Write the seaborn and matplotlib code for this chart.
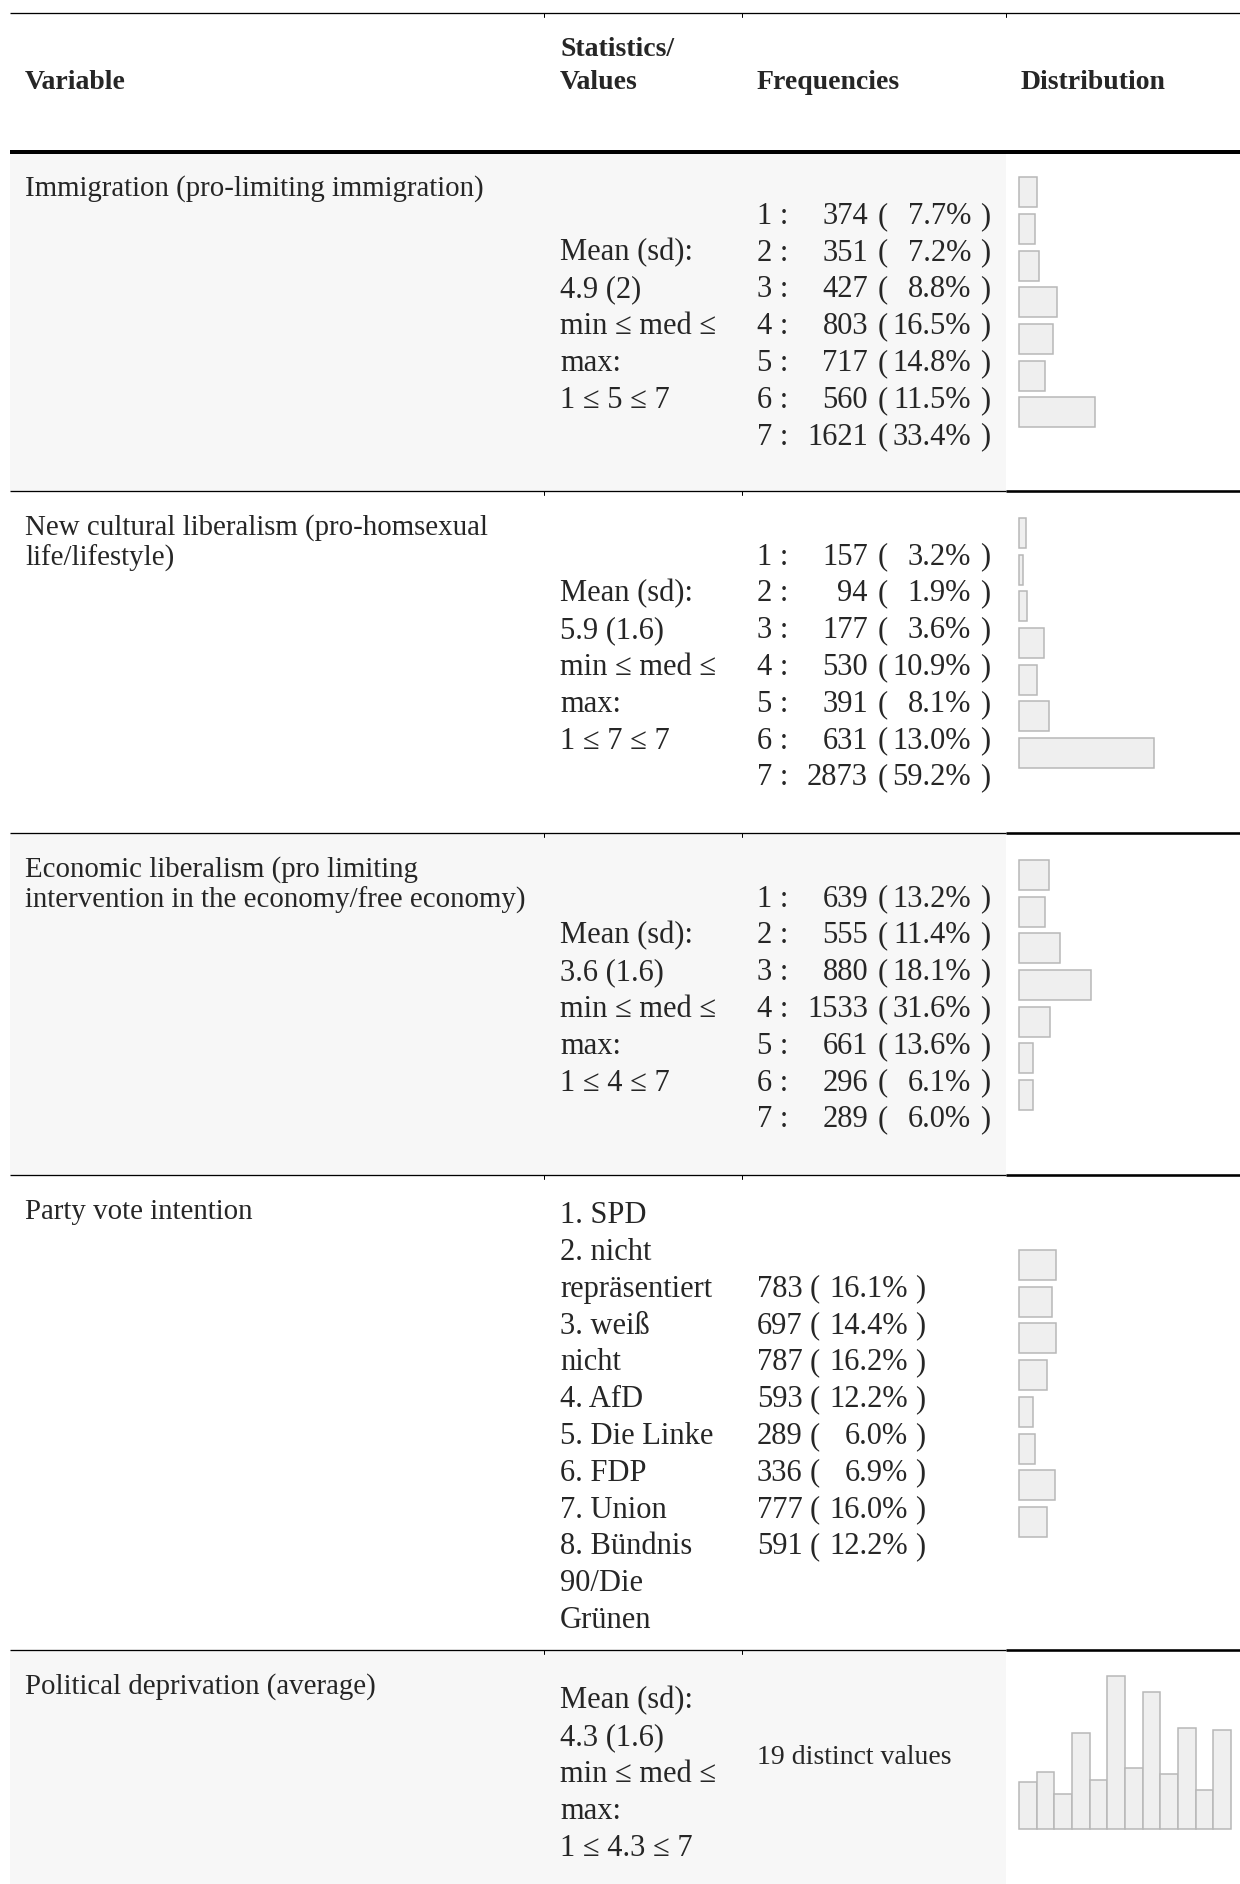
import matplotlib
matplotlib.use("Agg")
import matplotlib.pyplot as plt
from matplotlib.patches import Rectangle
import seaborn as sns
import pandas as pd

sns.set_theme(style="white")
plt.rcParams['font.family'] = ['Liberation Serif', 'DejaVu Serif']

# ---------------- data ----------------
header_variable = "Variable"
header_stats = ["Statistics/", "Values"]
header_freq = "Frequencies"
header_dist = "Distribution"

var_names = [
    ["Immigration (pro-limiting immigration)"],
    ["New cultural liberalism (pro-homsexual", "life/lifestyle)"],
    ["Economic liberalism (pro limiting", "intervention in the economy/free economy)"],
    ["Party vote intention"],
    ["Political deprivation (average)"],
]

stats_immig = ["Mean (sd):", "4.9 (2)", "min \u2264 med \u2264", "max:", "1 \u2264 5 \u2264 7"]
stats_cult = ["Mean (sd):", "5.9 (1.6)", "min \u2264 med \u2264", "max:", "1 \u2264 7 \u2264 7"]
stats_econ = ["Mean (sd):", "3.6 (1.6)", "min \u2264 med \u2264", "max:", "1 \u2264 4 \u2264 7"]
stats_party = ["1. SPD", "2. nicht", "repr\u00e4sentiert", "3. wei\u00df", "nicht", "4. AfD",
               "5. Die Linke", "6. FDP", "7. Union", "8. B\u00fcndnis", "90/Die", "Gr\u00fcnen"]
stats_depr = ["Mean (sd):", "4.3 (1.6)", "min \u2264 med \u2264", "max:", "1 \u2264 4.3 \u2264 7"]

levels_7 = ["1", "2", "3", "4", "5", "6", "7"]
immig_counts = [374, 351, 427, 803, 717, 560, 1621]
immig_pct = [7.7, 7.2, 8.8, 16.5, 14.8, 11.5, 33.4]
cult_counts = [157, 94, 177, 530, 391, 631, 2873]
cult_pct = [3.2, 1.9, 3.6, 10.9, 8.1, 13.0, 59.2]
econ_counts = [639, 555, 880, 1533, 661, 296, 289]
econ_pct = [13.2, 11.4, 18.1, 31.6, 13.6, 6.1, 6.0]

party_levels = ["SPD", "nicht repr\u00e4sentiert", "wei\u00df nicht", "AfD", "Die Linke",
                "FDP", "Union", "B\u00fcndnis 90/Die Gr\u00fcnen"]
party_counts = [783, 697, 787, 593, 289, 336, 777, 591]
party_pct = [16.1, 14.4, 16.2, 12.2, 6.0, 6.9, 16.0, 12.2]

depr_text = "19 distinct values"
depr_bins = list(range(12))
depr_counts = [244, 296, 181, 505, 254, 801, 317, 716, 286, 528, 202, 517]

# ---------------- layout ----------------
W, H = 1240, 1884
fig = plt.figure(figsize=(W / 100, H / 100), dpi=100)
bg = fig.add_axes([0, 0, 1, 1])
bg.set_xlim(0, W)
bg.set_ylim(H, 0)
bg.axis('off')

FS_HEAD = 20
FS_VAR = 20.8
FS_BODY = 22
FS_DISTINCT = 20
LS = 36.8          # body line pitch
VLS = 31           # variable name line pitch
X0, XC1, XC2, XC3 = 10, 544, 742, 1006
X_VAR, X_STAT, X_FREQ, X_DIST = 26, 560, 757, 1019
GRAY = "#f7f7f7"
BAR_FILL = "#efefef"
BAR_EDGE = "#b8b8b8"

row_tops = [151.5, 491, 833, 1175, 1650]
row_bots = [491, 833, 1175, 1650, 1888]
shaded = [True, False, True, False, True]

# backgrounds
for t, b, s in zip(row_tops, row_bots, shaded):
    if s:
        bg.add_patch(Rectangle((X0, t), XC3 - X0, b - t, facecolor=GRAY, edgecolor='none', zorder=0))

# lines
px = 0.72
bg.plot([X0, W], [13, 13], color='black', lw=1.3 * px, solid_capstyle='butt')
for xc in (XC1, XC2, XC3):
    bg.plot([xc, xc], [13, 17], color='black', lw=1.0 * px)
bg.plot([X0, W], [151.5, 151.5], color='black', lw=4 * px, solid_capstyle='butt')
for t in row_tops[1:]:
    bg.plot([X0, XC3], [t, t], color='black', lw=1.3 * px, solid_capstyle='butt')
    bg.plot([XC3, W], [t, t], color='black', lw=2.6 * px, solid_capstyle='butt')
    for xc in (XC1, XC2):
        bg.plot([xc, xc], [t, t + 4], color='black', lw=1.0 * px)

# header
bg.text(X_VAR - 1, 89, header_variable, fontsize=FS_HEAD, fontweight='bold', ha='left', va='baseline')
bg.text(X_STAT, 56, header_stats[0], fontsize=FS_HEAD, fontweight='bold', ha='left', va='baseline')
bg.text(X_STAT, 89, header_stats[1], fontsize=FS_HEAD, fontweight='bold', ha='left', va='baseline')
bg.text(X_FREQ, 89, header_freq, fontsize=FS_HEAD, fontweight='bold', ha='left', va='baseline')
bg.text(X_DIST + 2, 89, header_dist, fontsize=FS_HEAD, fontweight='bold', ha='left', va='baseline')

# variable names
for t, lines in zip(row_tops, var_names):
    for j, ln in enumerate(lines):
        bg.text(X_VAR - 1, t + 44 + j * VLS, ln, fontsize=FS_VAR, ha='left', va='baseline')


def line_centers(r, n):
    bc = (row_tops[r] + row_bots[r]) / 2 + 4
    return [bc + (i - (n - 1) / 2) * LS for i in range(n)]


def body(x, y, s, ha='left'):
    bg.text(x, y + 9, s, fontsize=FS_BODY, ha=ha, va='baseline')


# statistics column
for r, st in enumerate([stats_immig, stats_cult, stats_econ, stats_party, stats_depr]):
    for y, s in zip(line_centers(r, len(st)), st):
        body(X_STAT, y, s)

# frequencies for 7-point items
for r, (cnts, pcts) in enumerate([(immig_counts, immig_pct), (cult_counts, cult_pct), (econ_counts, econ_pct)]):
    ys = line_centers(r, len(cnts))
    for lev, c, p, y in zip(levels_7, cnts, pcts, ys):
        body(X_FREQ, y, f"{lev} :")
        body(868, y, f"{c}", ha='right')
        body(878, y, "(")
        body(971, y, f"{p:.1f}%", ha='right')
        body(980, y, ")")

# frequencies for party
ys_party = line_centers(3, len(stats_party))[2:2 + len(party_counts)]
for c, p, y in zip(party_counts, party_pct, ys_party):
    body(X_FREQ, y, f"{c}")
    body(810, y, "(")
    body(908, y, f"{p:.1f}%", ha='right')
    body(915, y, ")")

# distinct values text
bg.text(X_FREQ, 1764, depr_text, fontsize=FS_DISTINCT, ha='left', va='baseline')

# ---------------- distribution bars ----------------
PITCH = 36.7
BAR_H = 30
PX_PER_PCT = 2.28


def bar_block(r, labels, pcts):
    n = len(pcts)
    bc = (row_tops[r] + row_bots[r]) / 2 - 19
    h = n * PITCH
    top = bc - h / 2
    ax = fig.add_axes([X_DIST / W, 1 - (top + h) / H, (W - X_DIST) / W, h / H])
    df = pd.DataFrame({"level": labels, "pct": pcts})
    sns.barplot(data=df, x="pct", y="level", orient="h", width=BAR_H / PITCH,
                color=BAR_FILL, edgecolor=BAR_EDGE, linewidth=1.1, saturation=1,
                errorbar=None, ax=ax)
    ax.set_xlim(0, (W - X_DIST) / PX_PER_PCT)
    ax.set_ylim(n - 0.5, -0.5)
    ax.axis('off')
    for p in ax.patches:
        p.set_clip_on(False)


bar_block(0, levels_7, immig_pct)
bar_block(1, levels_7, cult_pct)
bar_block(2, levels_7, econ_pct)
bar_block(3, party_levels, party_pct)

# histogram for political deprivation
hx0, hx1, hb, ht = 1019, 1231, 1829, 1676
axh = fig.add_axes([hx0 / W, 1 - hb / H, (hx1 - hx0) / W, (hb - ht) / H])
sns.barplot(x=depr_bins, y=depr_counts, width=1.0, color=BAR_FILL, edgecolor=BAR_EDGE,
            linewidth=1.1, saturation=1, errorbar=None, ax=axh)
axh.set_xlim(-0.5, len(depr_bins) - 0.5)
axh.set_ylim(0, max(depr_counts))
axh.axis('off')
for p in axh.patches:
    p.set_clip_on(False)

fig.savefig("out.png", dpi=100)
